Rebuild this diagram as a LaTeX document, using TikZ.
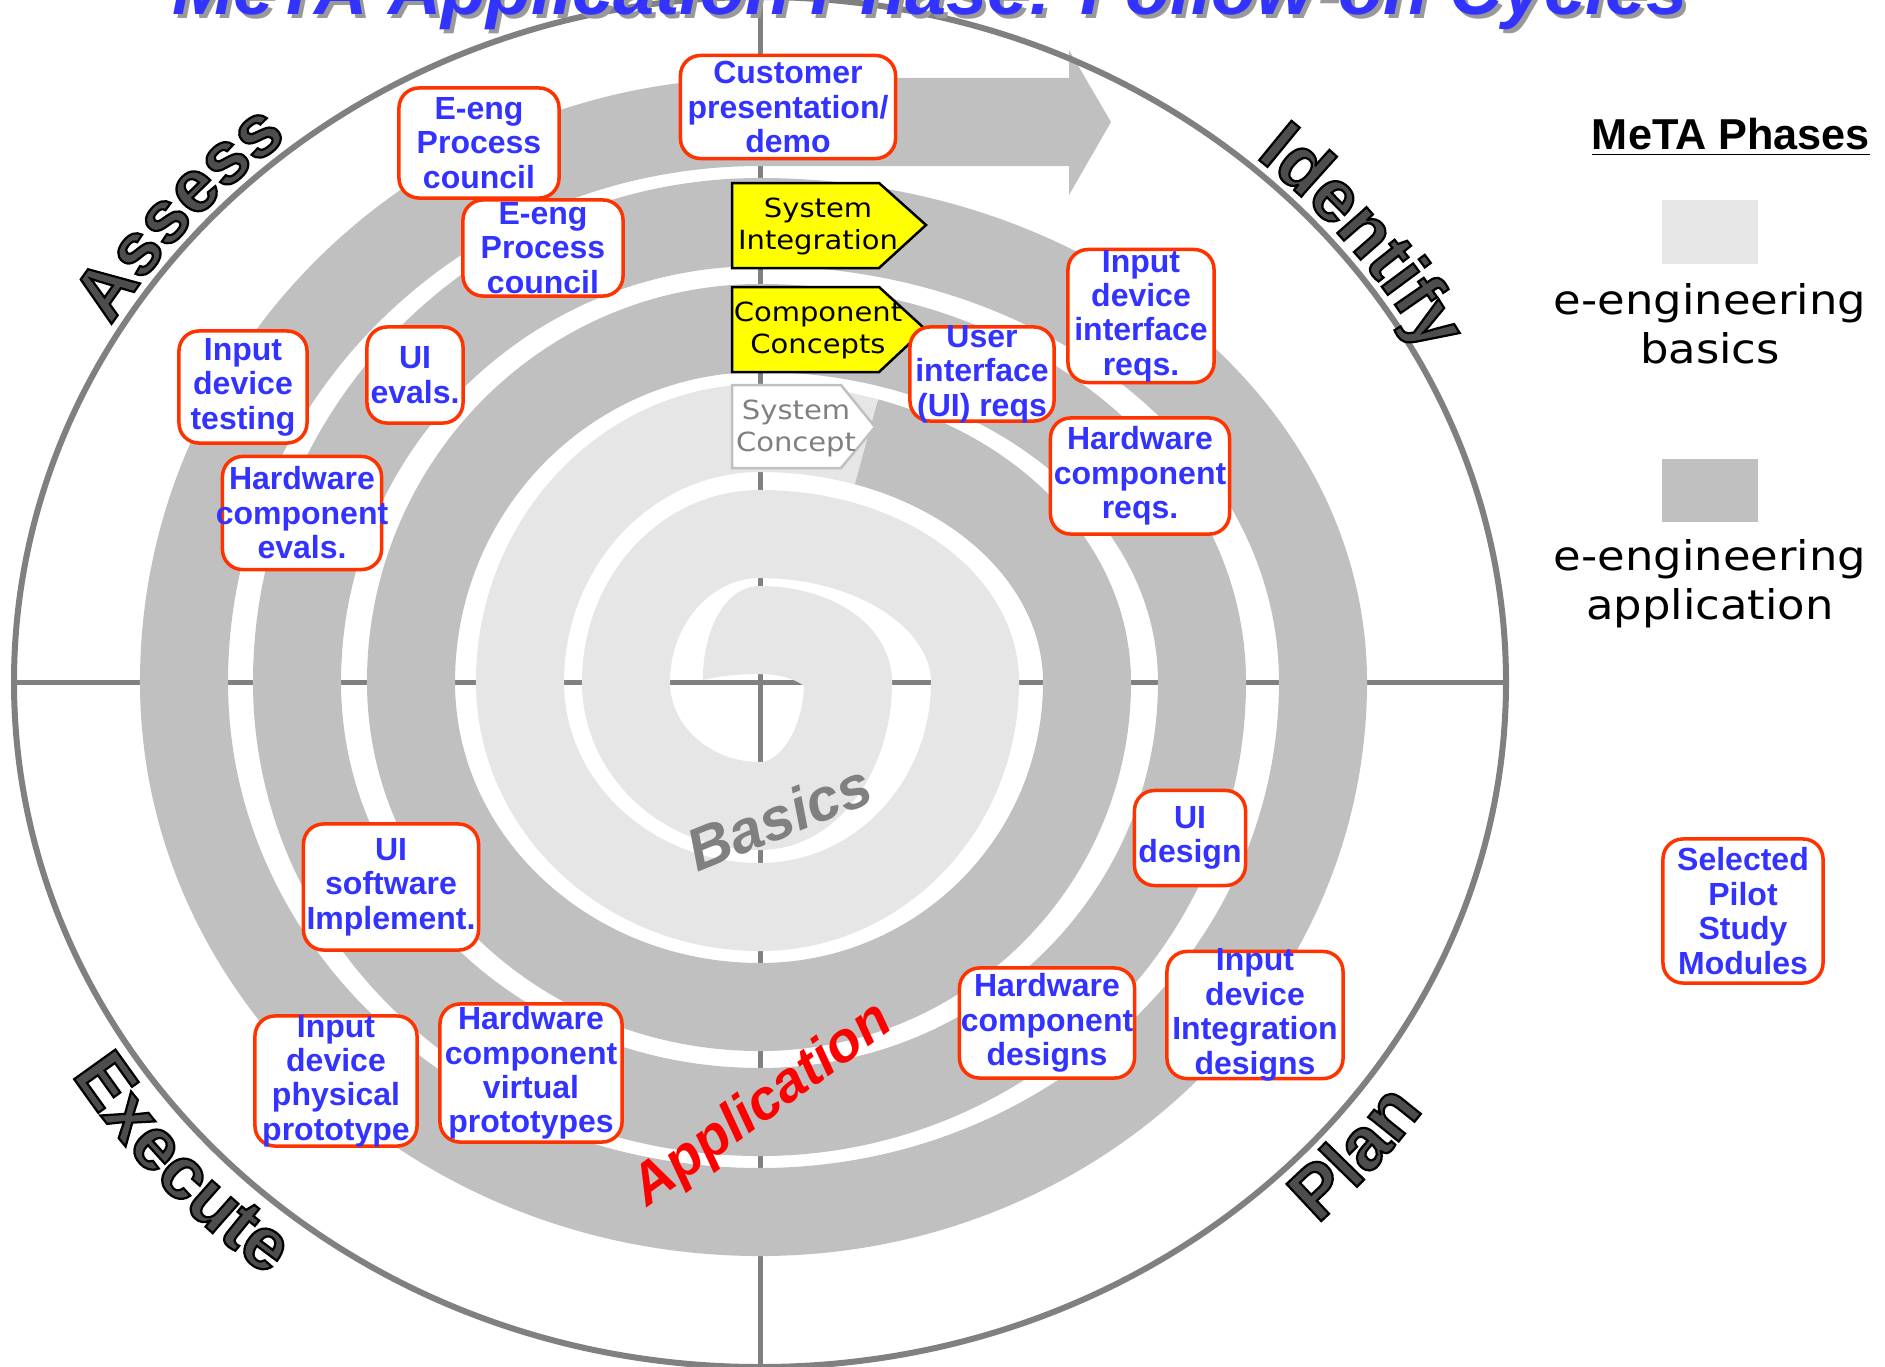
\documentclass[tikz,border=0pt]{standalone}
\usepackage{fontspec}
\setmainfont{Liberation Sans}
\newfontfamily\vfont{DejaVu Sans}[FakeStretch=1.1]
\newfontfamily\phasefont{Liberation Sans}[BoldFeatures={FakeBold=3}]
\usepackage{tikz}
\usetikzlibrary{positioning, decorations.text}

\definecolor{modblue}{HTML}{3333FF}
\definecolor{modred}{HTML}{FF3300}
\definecolor{appgray}{HTML}{C0C0C0}
\definecolor{basgray}{HTML}{E6E6E6}
\definecolor{axisgray}{HTML}{808080}
\definecolor{labgray}{HTML}{4D4D4D}
\definecolor{sigyellow}{HTML}{FFFF00}

\begin{document}
\begin{tikzpicture}[x=0.01cm, y=-0.01cm,
    mod/.style={draw=modred, line width=0.035cm, fill=white, rounded corners=0.2cm, inner sep=0pt},
    modtext/.style={text=modblue, font=\fontsize{9.1}{9.8}\selectfont\bfseries, align=center},
    mbox/.style n args={3}{mod, minimum width=#1, minimum height=#2, label={[modtext]center:{#3}}},
    sig/.style={draw=black, line width=0.025cm, fill=sigyellow},
    sigtext/.style={font=\vfont\fontsize{7.5}{9.1}\selectfont, align=center, inner sep=0pt},
    band/.style={line width=0.88cm},
    axis/.style={axisgray, line width=0.05cm},
    phase/.style={decorate, decoration={text along path, text align=center,
        text={|\phasefont\bfseries\fontsize{21}{21}\selectfont\color{labgray}\special{pdf:literal direct 0 G}|#1}}},
    legbox/.style={minimum width=0.96cm, minimum height=0.63cm, inner sep=0pt},
    legtext/.style={font=\vfont\fontsize{11.6}{13.9}\selectfont, align=center, inner sep=0pt},
    headline/.style={font=\fontsize{21}{21}\selectfont\bfseries\itshape, anchor=base}
]
\useasboundingbox (0,0) rectangle (1885,1366);
\clip (0,0) rectangle (1885,1366);

% axes
\draw[axis] (14,682) -- (1506,682);
\draw[axis] (760,0) -- (760,1366);

\begin{scope}[shift={(760,682)}]
% basics spiral
\fill[basgray] (-57,-2) .. controls (-58,-45) and (-38,-96) .. (0,-96) -- (3,-96) -- (3,-8) -- (0,-8)
    .. controls (-25,-8) and (-45,-5) .. (-57,-2) -- cycle;
\draw[band, basgray] (0,-52)
    arc[start angle=-90, end angle=0, x radius=88, y radius=52]
    arc[start angle=0, end angle=90, x radius=88, y radius=124]
    arc[start angle=90, end angle=180, x radius=134, y radius=124]
    arc[start angle=180, end angle=270, x radius=134, y radius=148]
    arc[start angle=270, end angle=360, x radius=215, y radius=148]
    arc[start angle=0, end angle=90, x radius=215, y radius=225]
    arc[start angle=90, end angle=180, x radius=240, y radius=225]
    arc[start angle=180, end angle=270, x radius=240, y radius=254]
    arc[start angle=270, end angle=289, x radius=327, y radius=254];
% application spiral
\draw[band, appgray] (289:327 and 254)
    arc[start angle=289, end angle=360, x radius=327, y radius=254]
    arc[start angle=0, end angle=90, x radius=327, y radius=325]
    arc[start angle=90, end angle=180, x radius=349, y radius=325]
    arc[start angle=180, end angle=270, x radius=349, y radius=354]
    arc[start angle=270, end angle=360, x radius=442, y radius=354]
    arc[start angle=0, end angle=90, x radius=442, y radius=430]
    arc[start angle=90, end angle=180, x radius=463, y radius=430]
    arc[start angle=180, end angle=270, x radius=463, y radius=460]
    arc[start angle=270, end angle=360, x radius=563, y radius=460]
    arc[start angle=0, end angle=90, x radius=563, y radius=530]
    arc[start angle=90, end angle=180, x radius=576, y radius=530]
    arc[start angle=180, end angle=270, x radius=576, y radius=560]
    -- (309,-560);
\fill[appgray] (309,-632) -- (351,-560) -- (309,-487) -- cycle;

% cycle circle and phase names
\draw[axisgray, line width=0.06cm] (0,0) ellipse[x radius=746, y radius=685];
\path[phase=Assess] (205:756 and 695) arc[start angle=205, end angle=237, x radius=756, y radius=695];
\path[phase=Identify] (305.5:756 and 695) arc[start angle=305.5, end angle=337.5, x radius=756, y radius=695];
\path[phase=Execute] (156:809 and 748) arc[start angle=156, end angle=120, x radius=809, y radius=748];
\path[phase=Plan] (58:809 and 748) arc[start angle=58, end angle=23, x radius=809, y radius=748];
\end{scope}

\node[rotate=22, text=axisgray, font=\fontsize{17}{17}\selectfont\bfseries\itshape] (basics) at (779,817) {Basics};
\node[rotate=36, text=red, font=\fontsize{16}{16}\selectfont\bfseries\itshape] (appl) at (763,1106) {Application};

% concept steps
\draw[sig] (732,183) -- (879,183) -- (926,225) -- (879,268) -- (732,268) -- cycle;
\node[sigtext] (sysint) at (818,226) {System\\Integration};
\draw[sig] (732,287) -- (879,287) -- (925,329) -- (879,372) -- (732,372) -- cycle;
\node[sigtext] (compcon) at (818,330) {Component\\Concepts};
\draw[sig, draw=appgray, fill=white] (732,385) -- (841,385) -- (875,427) -- (841,468) -- (732,468) -- cycle;
\node[sigtext, text=axisgray] (syscon) at (796,428) {System\\Concept};

% modules
\node[mbox={2.15cm}{1.03cm}{Customer\\presentation/\\demo}] (cust) at (788,107) {};
\node[mbox={1.60cm}{1.10cm}{E-eng\\Process\\council}] (eeng1) at (479,143) {};
\node[mbox={1.60cm}{0.96cm}{E-eng\\Process\\council}] (eeng2) at (543,248) {};
\node[mbox={1.28cm}{1.12cm}{Input\\device\\testing}] (idtest) at (243,387) {};
\node[mbox={0.96cm}{0.96cm}{UI\\evals.}] (uieval) at (415,375) {};
\node[mbox={1.59cm}{1.13cm}{Hardware\\component\\evals.}] (hweval) at (302,513) {};
\node[mbox={1.46cm}{1.33cm}{Input\\device\\interface\\reqs.}] (idreq) at (1141,316) {};
\node[mbox={1.44cm}{0.94cm}{User\\interface\\(UI) reqs}] (uireq) at (982,374) {};
\node[mbox={1.79cm}{1.16cm}{Hardware\\component\\reqs.}] (hwreq) at (1140,476) {};
\node[mbox={1.11cm}{0.95cm}{UI\\design}] (uides) at (1190,838) {};
\node[mbox={1.75cm}{1.10cm}{Hardware\\component\\designs}] (hwdes) at (1047,1023) {};
\node[mbox={1.76cm}{1.27cm}{Input\\device\\Integration\\designs}] (idint) at (1255,1015) {};
\node[mbox={1.75cm}{1.26cm}{UI\\software\\Implement.}] (uisw) at (391,887) {};
\node[mbox={1.62cm}{1.30cm}{Input\\device\\physical\\prototype}] (idphys) at (336,1081) {};
\node[mbox={1.82cm}{1.38cm}{Hardware\\component\\virtual\\prototypes}] (hwvirt) at (531,1073) {};
\node[mbox={1.60cm}{1.44cm}{Selected\\Pilot\\Study\\Modules}] (pilot) at (1743,911) {};

% title
\node[headline, text=black!40] (titleshade) at (934,18) {MeTA Application Phase: Follow-on Cycles};
\node[headline, text=modblue] (title) at (930,14) {MeTA Application Phase: Follow-on Cycles};

% legend
\node[font=\fontsize{12.3}{12.3}\selectfont\bfseries, anchor=base] (phases) at (1731,149) {\underline{MeTA Phases}};
\node[legbox, fill=basgray] (lgbas) at (1710,232) {};
\node[legtext, below=0.19cm of lgbas] (lgbastxt) {e-engineering\\basics};
\node[legbox, fill=appgray, below=0.93cm of lgbastxt] (lgapp) {};
\node[legtext, below=0.16cm of lgapp] (lgapptxt) {e-engineering\\application};
\end{tikzpicture}
\end{document}
